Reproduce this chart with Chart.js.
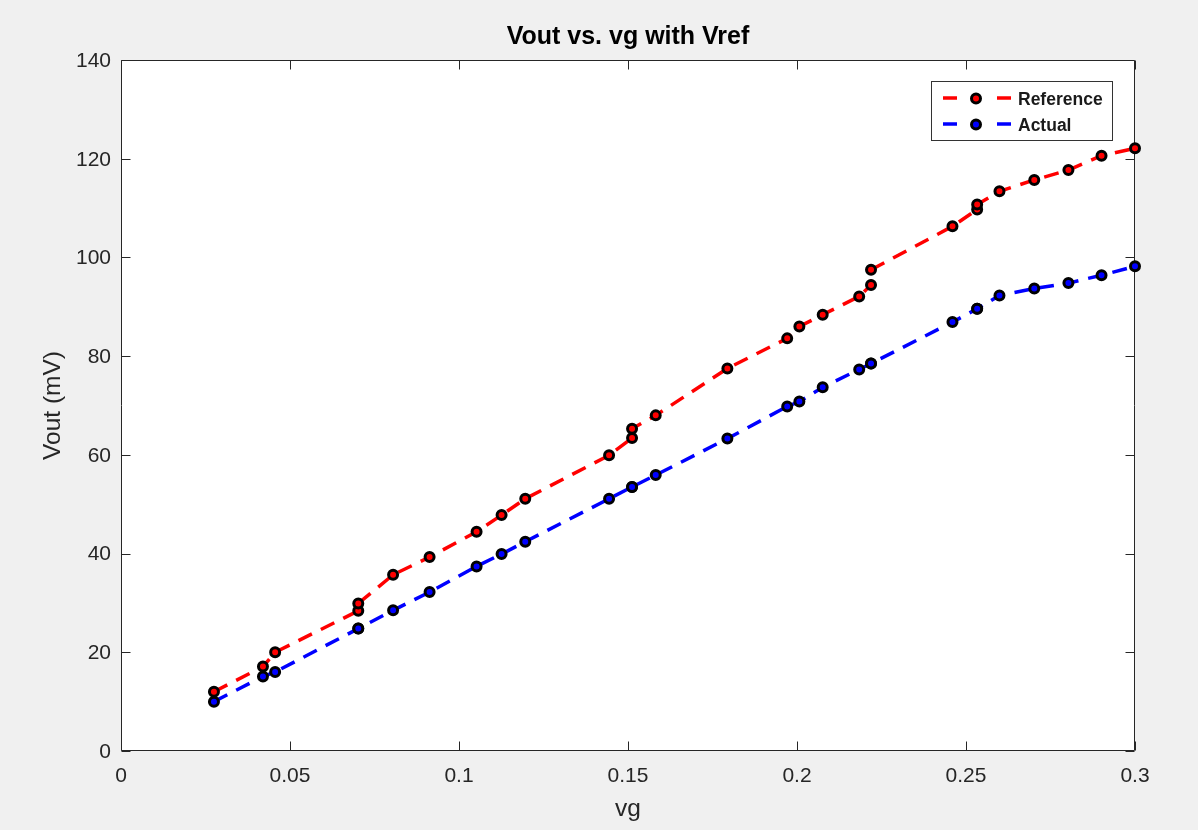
<!DOCTYPE html>
<html>
<head>
<meta charset="utf-8">
<style>
  html, body { margin: 0; padding: 0; background: #f0f0f0; overflow: hidden; }
  #wrap { width: 1198px; height: 830px; }
</style>
<script src="https://cdn.jsdelivr.net/npm/chart.js@4.4.1/dist/chart.umd.min.js"></script>
</head>
<body>
<div id="wrap"><canvas id="plot" width="1198" height="830"></canvas></div>
<script>
// Gate drive sweep (vg) and the measured output voltages in mV
const vg = [0.0275, 0.0420, 0.0456, 0.0702, 0.0702, 0.0805, 0.0913, 0.1052, 0.1126, 0.1196,
            0.1444, 0.1512, 0.1512, 0.1582, 0.1794, 0.1971, 0.2007, 0.2076, 0.2184, 0.2219,
            0.2219, 0.2460, 0.2533, 0.2533, 0.2599, 0.2702, 0.2803, 0.2901, 0.3000];
const referenceOut = [12.0, 17.1, 20.0, 28.4, 29.9, 35.7, 39.3, 44.4, 47.8, 51.1,
                      59.9, 63.4, 65.3, 68.0, 77.5, 83.6, 86.0, 88.4, 92.1, 94.4,
                      97.5, 106.3, 109.7, 110.7, 113.4, 115.7, 117.7, 120.6, 122.1];
const actualOut = [10.0, 15.1, 16.0, 24.8, 24.8, 28.5, 32.2, 37.4, 39.9, 42.4,
                   51.1, 53.5, 53.5, 55.9, 63.3, 69.8, 70.8, 73.7, 77.3, 78.5,
                   78.5, 86.9, 89.6, 89.6, 92.3, 93.7, 94.8, 96.4, 98.2];
const seriesNames = ['Reference', 'Actual'];
const xTickValues = [0, 0.05, 0.1, 0.15, 0.2, 0.25, 0.3];
const yTickValues = [0, 20, 40, 60, 80, 100, 120, 140];

const FONT = "'Liberation Sans', Arial, Helvetica, sans-serif";
const AXIS_COLOR = '#262626';

function toPoints(ys) {
  return vg.map((x, i) => ({ x: x, y: ys[i] }));
}

function seriesStyle(color) {
  return {
    borderColor: color,
    backgroundColor: color,
    borderWidth: 3.5,
    borderDash: [15, 10],
    pointRadius: 4.5,
    pointHoverRadius: 4.5,
    pointBorderWidth: 3,
    pointBorderColor: '#000000',
    pointBackgroundColor: color,
    tension: 0,
    fill: false,
    clip: false
  };
}

// Figure background, white axes face, box outline and inward tick marks
const axesFrame = {
  id: 'axesFrame',
  beforeDraw(chart) {
    const { ctx, chartArea: a } = chart;
    ctx.save();
    ctx.fillStyle = '#f0f0f0';
    ctx.fillRect(0, 0, chart.width, chart.height);
    ctx.fillStyle = '#ffffff';
    ctx.fillRect(a.left, a.top, a.right - a.left, a.bottom - a.top);
    ctx.restore();
  },
  beforeDatasetsDraw(chart) {
    const { ctx, chartArea: a, scales } = chart;
    const tick = 9;
    ctx.save();
    ctx.strokeStyle = AXIS_COLOR;
    ctx.lineWidth = 1;
    ctx.beginPath();
    const L = Math.round(a.left) + 0.5, R = Math.round(a.right) - 0.5;
    const T = Math.round(a.top) + 0.5, B = Math.round(a.bottom) - 0.5;
    ctx.rect(L, T, R - L, B - T);
    scales.x.ticks.forEach(t => {
      const px = Math.round(scales.x.getPixelForValue(t.value)) + 0.5;
      ctx.moveTo(px, B); ctx.lineTo(px, B - tick);
      ctx.moveTo(px, T); ctx.lineTo(px, T + tick);
    });
    scales.y.ticks.forEach(t => {
      const py = Math.round(scales.y.getPixelForValue(t.value)) + 0.5;
      ctx.moveTo(L, py); ctx.lineTo(L + tick, py);
      ctx.moveTo(R, py); ctx.lineTo(R - tick, py);
    });
    ctx.stroke();
    ctx.restore();
  }
};

// Boxed legend in the upper right of the axes: dash, marker, dash, label
const boxedLegend = {
  id: 'boxedLegend',
  afterDraw(chart) {
    const { ctx, chartArea: a } = chart;
    const boxR = a.right - 22, boxT = a.top + 21;
    const boxW = 182, boxH = 60;
    const boxL = boxR - boxW;
    ctx.save();
    ctx.fillStyle = '#ffffff';
    ctx.fillRect(boxL, boxT, boxW, boxH);
    ctx.strokeStyle = '#333333';
    ctx.lineWidth = 1;
    ctx.strokeRect(boxL + 0.5, boxT + 0.5, boxW - 1, boxH - 1);
    ctx.font = 'bold 17.5px ' + FONT;
    ctx.textBaseline = 'middle';
    ctx.textAlign = 'left';
    chart.data.datasets.forEach((ds, i) => {
      const cy = boxT + 17 + i * 26;
      ctx.strokeStyle = ds.borderColor;
      ctx.lineWidth = 3.5;
      ctx.setLineDash([]);
      ctx.beginPath();
      ctx.moveTo(boxL + 12, cy); ctx.lineTo(boxL + 26, cy);
      ctx.moveTo(boxL + 66, cy); ctx.lineTo(boxL + 80, cy);
      ctx.stroke();
      ctx.beginPath();
      ctx.arc(boxL + 45, cy + 0.5, 4.5, 0, Math.PI * 2);
      ctx.fillStyle = ds.pointBackgroundColor;
      ctx.fill();
      ctx.lineWidth = 3;
      ctx.strokeStyle = '#000000';
      ctx.stroke();
      ctx.fillStyle = '#1a1a1a';
      ctx.fillText(ds.label, boxL + 87, cy + 2.2);
    });
    ctx.restore();
  }
};

new Chart(document.getElementById('plot'), {
  type: 'line',
  data: {
    datasets: [
      Object.assign({ label: seriesNames[0], data: toPoints(referenceOut) }, seriesStyle('#ff0000')),
      Object.assign({ label: seriesNames[1], data: toPoints(actualOut) }, seriesStyle('#0000ff'))
    ]
  },
  options: {
    responsive: false,
    animation: false,
    devicePixelRatio: 1,
    layout: { padding: { left: 0, right: 63, top: 0, bottom: 0 } },
    plugins: {
      legend: { display: false },
      tooltip: { enabled: false },
      title: {
        display: true,
        fullSize: false,
        text: 'Vout vs. vg with Vref',
        color: '#000000',
        font: { family: FONT, size: 25, weight: 'bold', lineHeight: 1.2 },
        padding: { top: 22.3, bottom: 7.7 }
      }
    },
    scales: {
      x: {
        type: 'linear',
        min: 0,
        max: 0.3,
        afterBuildTicks: s => { s.ticks = xTickValues.map(v => ({ value: v })); },
        afterFit: s => { s.height = 79; },
        grid: { display: false, drawTicks: false },
        border: { display: false },
        ticks: {
          padding: 13,
          color: AXIS_COLOR,
          font: { family: FONT, size: 21 },
          maxRotation: 0,
          callback: v => String(parseFloat(v.toFixed(2)))
        },
        title: {
          display: true,
          text: 'vg',
          color: AXIS_COLOR,
          font: { family: FONT, size: 24.5, lineHeight: 1.2 },
          padding: { top: 0, bottom: 5.7 }
        }
      },
      y: {
        type: 'linear',
        min: 0,
        max: 140,
        afterBuildTicks: s => { s.ticks = yTickValues.map(v => ({ value: v })); },
        afterFit: s => { s.width = 121; },
        grid: { display: false, drawTicks: false },
        border: { display: false },
        ticks: {
          padding: 10,
          labelOffset: 1,
          color: AXIS_COLOR,
          font: { family: FONT, size: 21 },
          callback: v => String(v)
        },
        title: {
          display: true,
          text: 'Vout (mV)',
          color: AXIS_COLOR,
          font: { family: FONT, size: 24.5, lineHeight: 1.2 },
          padding: { top: 38.3, bottom: 0 }
        }
      }
    }
  },
  plugins: [axesFrame, boxedLegend]
});
</script>
</body>
</html>
